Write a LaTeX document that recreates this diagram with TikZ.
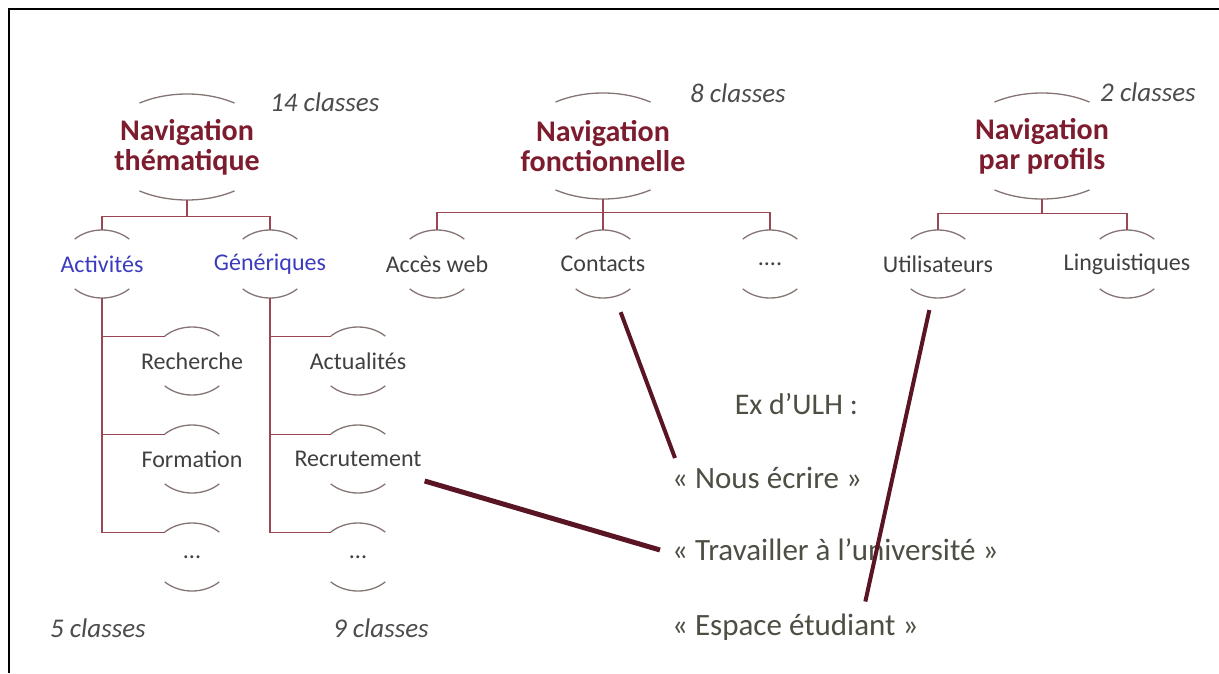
\documentclass[tikz,border=0pt]{standalone}
\usepackage{fontspec}
\setmainfont{Carlito}
\usepackage{xcolor}
\usetikzlibrary{shapes.geometric}

\definecolor{navred}{HTML}{7D1C2E}
\definecolor{navblue}{HTML}{3B3BBF}
\definecolor{ringgray}{HTML}{857474}
\definecolor{treered}{HTML}{9C4553}
\definecolor{linkred}{HTML}{5A1525}
\definecolor{quotegray}{HTML}{4E4E44}

\begin{document}
\begin{tikzpicture}[
  x=1pt, y=-1pt,
  every node/.style={inner sep=0pt},
  topnode/.style={ellipse, minimum width=170pt, minimum height=106pt},
  subnode/.style={ellipse, minimum width=80pt, minimum height=67pt},
  toptext/.style={font=\fontsize{30}{30}\selectfont\bfseries, text=navred, align=center},
  subtext/.style={font=\fontsize{24}{28}\selectfont, text=black!75},
  bluetext/.style={subtext, text=navblue},
  count/.style={font=\fontsize{27}{30}\selectfont\itshape, text=black!70, anchor=west},
  quote/.style={font=\fontsize{31}{34}\selectfont, text=quotegray, anchor=west},
  ring/.style={draw=ringgray, line width=1.3pt},
  tree/.style={draw=treered, line width=1.3pt},
  link/.style={draw=linkred, line width=4pt},
]

\useasboundingbox (0,0) rectangle (1219,673);
\draw[line width=2pt] (9,673) -- (9,9) -- (1219,9);

% top level
\node[topnode] (nt) at (187,147) {};
\node[topnode] (nf) at (603,146) {};
\node[topnode] (np) at (1042,146) {};
\node[toptext] (nt-t) at (nt) {Navigation\\thématique};
\node[toptext] (nf-t) at (nf) {Navigation\\fonctionnelle};
\node[toptext] (np-t) at (np) {Navigation\\par profils};

\node[count] (c14) at (270,102) {14 classes};
\node[count] (c8) at (690,93) {8 classes};
\node[count] (c2) at (1100,92) {2 classes};

% first level
\node[subnode] (act) at (102,264) {};
\node[subnode] (gen) at (270,264) {};
\node[subnode] (acc) at (437,264) {};
\node[subnode] (con) at (603,264) {};
\node[subnode] (fdots) at (770,264) {};
\node[subnode] (uti) at (938,264) {};
\node[subnode] (lin) at (1127,264) {};

\node[bluetext] (act-t) at (act) {Activités};
\node[bluetext] (gen-t) at (gen) {Génériques};
\node[subtext] (acc-t) at (acc) {Accès web};
\node[subtext] (con-t) at (con) {Contacts};
\node[subtext] (fdots-t) at (fdots) {....};
\node[subtext] (uti-t) at (uti) {Utilisateurs};
\node[subtext] (lin-t) at (lin) {Linguistiques};

% second level
\node[subnode] (rech) at (192,361) {};
\node[subnode] (form) at (192,459) {};
\node[subnode] (tdots1) at (192,557) {};
\node[subnode] (actu) at (358,361) {};
\node[subnode] (recr) at (358,459) {};
\node[subnode] (tdots2) at (358,557) {};

\node[subtext] (rech-t) at (rech) {Recherche};
\node[subtext] (form-t) at (form) {Formation};
\node[subtext] (tdots1-t) at (tdots1) {...};
\node[subtext] (actu-t) at (actu) {Actualités};
\node[subtext] (recr-t) at (recr) {Recrutement};
\node[subtext] (tdots2-t) at (tdots2) {...};

\node[count] (c5) at (50,628) {5 classes};
\node[count] (c9) at (333,628) {9 classes};

% open rings
\foreach \n in {nt,nf,np} {
  \draw[ring] (\n.center) ++(236:85 and 53) arc[start angle=236, end angle=304, x radius=85, y radius=53];
  \draw[ring] (\n.center) ++(56:85 and 53) arc[start angle=56, end angle=124, x radius=85, y radius=53];
}
\foreach \n in {act,gen,acc,con,fdots,uti,lin,rech,form,tdots1,actu,recr,tdots2} {
  \draw[ring] (\n.center) ++(227:40 and 34) arc[start angle=227, end angle=313, x radius=40, y radius=34];
  \draw[ring] (\n.center) ++(47:40 and 34) arc[start angle=47, end angle=133, x radius=40, y radius=34];
}

% tree lines
\draw[tree] (nt.south) -- ++(0,16) -| (act.north);
\draw[tree] (nt.south) -- ++(0,16) -| (gen.north);
\draw[tree] (nf.south) -- ++(0,13) -| (acc.north);
\draw[tree] (nf.south) -- ++(0,13) -| (fdots.north);
\draw[tree] (nf.south) -- (con.north);
\draw[tree] (np.south) -- ++(0,14) -| (uti.north);
\draw[tree] (np.south) -- ++(0,14) -| (lin.north);

\draw[tree] (act.south) |- (rech.138);
\draw[tree] (act.south) |- (form.138);
\draw[tree] (act.south) |- (tdots1.138);
\draw[tree] (gen.south) |- (actu.138);
\draw[tree] (gen.south) |- (recr.138);
\draw[tree] (gen.south) |- (tdots2.138);

% example
\node[quote, anchor=east, font=\fontsize{30}{34}\selectfont] (ex) at (858,404) {Ex d'ULH :};
\node[quote] (nous) at (672,478) {« Nous écrire »};
\node[quote] (trav) at (672,550) {« Travailler à l'université »};
\node[quote] (esp) at (672,627) {« Espace étudiant »};

\draw[link, shorten <=17pt] (con.-70) -- ([shift={(3,-9)}]nous.north west);
\draw[link, line width=5pt] ([shift={(3,22)}]recr-t.east) -- ([shift={(-12,0)}]trav.west);
\draw[link, shorten <=13pt] (uti.-100) -- ([shift={(70,-12)}]esp.north);

\end{tikzpicture}
\end{document}
